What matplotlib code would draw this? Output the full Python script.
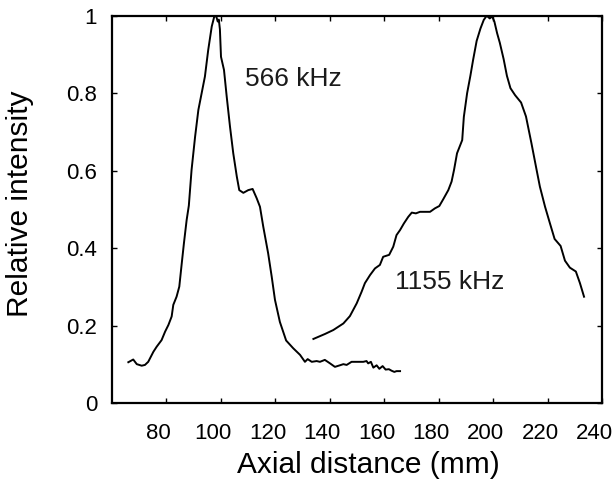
import matplotlib
matplotlib.use("Agg")
import matplotlib.pyplot as plt
from matplotlib.transforms import ScaledTranslation

plt.rcParams['font.family'] = ['Liberation Sans', 'DejaVu Sans']

# 566 kHz curve
x_566 = [66.1, 67.9, 69.2, 71.0, 72.2, 73.4, 75.3, 76.5, 78.3, 79.6, 80.8, 82.0, 82.6, 83.8,
         84.8, 85.7, 86.5, 87.5, 88.3, 89.3, 90.6, 91.8, 93.0, 94.2, 95.4, 96.7, 97.6, 98.3,
         98.9, 99.3, 99.7, 100.1, 101.2, 102.2, 103.4, 104.6, 105.9, 106.8, 108.3, 110.1, 111.7,
         113.2, 114.4, 115.6, 117.4, 118.7, 119.9, 121.7, 124.0, 126.6, 129.1, 130.9, 131.9,
         133.4, 135.2, 136.4, 138.2, 140.1, 141.9, 143.7, 145.0, 146.2, 148.0, 152.3, 153.5,
         154.1, 155.1, 156.0, 157.2, 158.2, 159.4, 160.5, 161.7, 162.7, 163.7, 164.5, 165.8]
y_566 = [0.106, 0.113, 0.101, 0.097, 0.099, 0.107, 0.133, 0.146, 0.163, 0.185, 0.202, 0.224,
         0.254, 0.275, 0.301, 0.361, 0.413, 0.473, 0.510, 0.602, 0.688, 0.757, 0.800, 0.843,
         0.911, 0.972, 0.997, 1.000, 0.985, 0.990, 0.965, 0.894, 0.860, 0.791, 0.714, 0.645,
         0.585, 0.550, 0.543, 0.550, 0.553, 0.529, 0.507, 0.456, 0.387, 0.327, 0.267, 0.210,
         0.162, 0.142, 0.125, 0.107, 0.114, 0.107, 0.109, 0.107, 0.112, 0.103, 0.094, 0.098,
         0.101, 0.099, 0.107, 0.107, 0.109, 0.103, 0.107, 0.092, 0.098, 0.089, 0.096, 0.087,
         0.088, 0.084, 0.081, 0.083, 0.083]

# 1155 kHz curve
x_1155 = [134.0, 138.3, 141.3, 145.0, 147.4, 149.9, 151.7, 152.9, 154.8, 156.6, 158.4, 159.6,
          161.8, 163.3, 164.5, 165.8, 167.2, 168.8, 170.1, 171.6, 173.1, 176.8, 178.6, 180.2,
          181.6, 183.5, 184.7, 185.6, 186.7, 188.6, 189.2, 190.4, 191.6, 192.6, 193.9, 195.3,
          196.5, 197.6, 198.7, 199.6, 200.4, 201.4, 202.4, 203.8, 205.0, 206.3, 208.0, 210.2,
          212.0, 214.0, 215.9, 217.1, 219.0, 220.8, 222.5, 224.7, 226.3, 228.1, 230.3, 231.8,
          233.3]
y_1155 = [0.166, 0.179, 0.189, 0.206, 0.225, 0.258, 0.288, 0.310, 0.331, 0.348, 0.357, 0.378,
          0.383, 0.404, 0.434, 0.447, 0.464, 0.481, 0.492, 0.490, 0.494, 0.494, 0.503, 0.509,
          0.526, 0.550, 0.572, 0.602, 0.645, 0.679, 0.739, 0.800, 0.845, 0.886, 0.935, 0.967,
          0.989, 1.000, 0.993, 0.998, 0.985, 0.955, 0.930, 0.888, 0.845, 0.813, 0.795, 0.776,
          0.740, 0.671, 0.602, 0.559, 0.507, 0.464, 0.424, 0.406, 0.368, 0.350, 0.340, 0.310,
          0.275]

x_ticks = [80, 100, 120, 140, 160, 180, 200, 220, 240]
y_ticks = [0, 0.2, 0.4, 0.6, 0.8, 1]
y_ticklabels = ['0', '0.2', '0.4', '0.6', '0.8', '1']

fig = plt.figure(figsize=(6.16, 4.92), dpi=100)
ax = fig.add_axes([111.7 / 616, 1 - 403.3 / 492, (602.3 - 111.7) / 616, (403.3 - 15.7) / 492])

ax.plot(x_566, y_566, color='black', lw=1.4)
ax.plot(x_1155, y_1155, color='black', lw=1.4)

ax.text(108.9, 0.836, '566 kHz', fontsize=19, ha='left', va='center', color='#1a1a1a')
ax.text(163.9, 0.314, '1155 kHz', fontsize=19, ha='left', va='center', color='#1a1a1a')

ax.set_xlim(60, 240)
ax.set_ylim(0, 1)
ax.set_xticks(x_ticks)
ax.set_yticks(y_ticks)
ax.set_yticklabels(y_ticklabels)

ax.tick_params(direction='in', length=3.5, width=1, top=True, right=True,
               labelsize=16, colors='black')
ax.tick_params(axis='x', pad=14.5)
ax.tick_params(axis='y', pad=10.5)
for s in ax.spines.values():
    s.set_linewidth(1.6)

off = ScaledTranslation(-7.5 / 100, 0, fig.dpi_scale_trans)
for lab in ax.get_xticklabels():
    lab.set_transform(lab.get_transform() + off)

ax.set_xlabel('Axial distance (mm)', fontsize=21.5)
ax.set_ylabel('Relative intensity', fontsize=21.5)
ax.xaxis.set_label_coords(0.524, -0.124)
ax.yaxis.set_label_coords(-0.158, 0.514)

fig.savefig('out.png', dpi=100)
